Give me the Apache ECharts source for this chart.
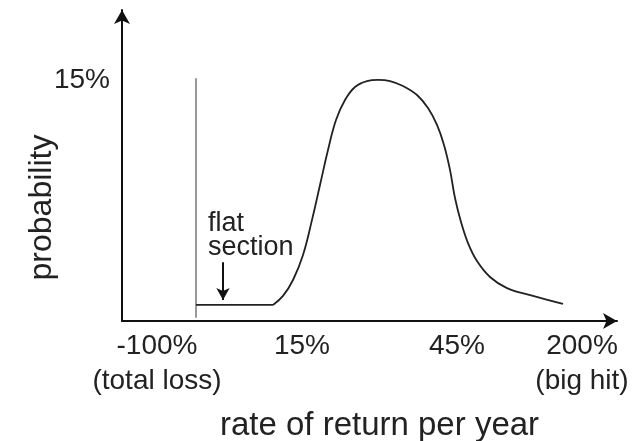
<!DOCTYPE html>
<html>
<head>
<meta charset="utf-8">
<script src="https://cdn.jsdelivr.net/npm/echarts@6/dist/echarts.min.js"></script>
<style>
html, body { margin: 0; padding: 0; background: #fff; }
#chart { width: 633px; height: 441px; }
</style>
</head>
<body>
<div id="chart"></div>
<script>
//*************** data *************************
// x in arbitrary position units along the return axis, y in % probability
var xTickPos = [7, 36, 67, 92];
var xTickLabels = ['-100%\n(total loss)', '15%', '45%', '200%\n(big hit)'];
var yTickPos = [15];
var yTickLabels = ['15%'];

var wallLine = [[14.8, 15.1], [14.8, 0.2]];
var flatLine = [[14.8, 1.0], [30.2, 1.0]];
var bellCurve = [
    [30.2, 1.00], [32.2, 1.56], [34.2, 2.55], [36.2, 4.11], [38.0, 6.29],
    [39.6, 8.46], [41.2, 10.64], [42.8, 12.51], [44.6, 13.75], [46.6, 14.56],
    [49.0, 14.93], [51.2, 15.00], [53.6, 14.93], [56.2, 14.62], [59.0, 14.06],
    [61.2, 13.25], [63.0, 12.20], [64.4, 10.95], [65.6, 9.40], [66.6, 7.65],
    [67.8, 6.16], [69.2, 4.85], [71.0, 3.73], [73.6, 2.74], [77.0, 2.05],
    [82.2, 1.56], [88.2, 1.06]
];
var flatNote = 'flat\nsection';
var flatNotePos = [16.2, 5.3];
var flatArrow = [[20.2, 3.65], [20.2, 1.3]];

//*************** chart *************************
var chart_dom = document.getElementById('chart');
var chart = echarts.init(chart_dom);

var font = 'Liberation Sans';
var textColor = '#222';

chart.setOption({
    animation: false,
    grid: {left: 122, right: 16, top: 10, bottom: 120, outerBoundsMode: 'none'},
    xAxis: {
        type: 'value',
        min: 0,
        max: 99,
        interval: 1,
        name: 'rate of return per year',
        nameLocation: 'middle',
        nameGap: 88,
        nameMoveOverlap: false,
        nameTextStyle: {fontFamily: font, fontSize: 33, color: textColor, padding: [0, 0, 0, 20]},
        axisLine: {
            show: true,
            symbol: ['none', 'arrow'],
            symbolSize: [12, 14],
            lineStyle: {color: '#111', width: 2}
        },
        axisTick: {show: false},
        splitLine: {show: false},
        axisLabel: {
            margin: 8,
            fontFamily: font,
            fontSize: 28,
            lineHeight: 35,
            color: textColor,
            formatter: function (v) {
                var i = xTickPos.indexOf(v);
                return i >= 0 ? xTickLabels[i] : '';
            }
        }
    },
    yAxis: {
        type: 'value',
        min: 0,
        max: 19.35,
        interval: 15,
        name: 'probability',
        nameLocation: 'middle',
        nameGap: 64,
        nameMoveOverlap: false,
        nameTextStyle: {fontFamily: font, fontSize: 32, color: textColor, padding: [0, 84, 0, 0]},
        axisLine: {
            show: true,
            symbol: ['none', 'arrow'],
            symbolSize: [12, 14],
            lineStyle: {color: '#111', width: 2}
        },
        axisTick: {show: false},
        splitLine: {show: false},
        axisLabel: {
            margin: 12,
            fontFamily: font,
            fontSize: 28,
            color: textColor,
            formatter: function (v) {
                var i = yTickPos.indexOf(v);
                return i >= 0 ? yTickLabels[i] : '';
            }
        }
    },
    series: [
        {
            type: 'line',
            data: wallLine,
            symbol: 'none',
            lineStyle: {color: '#777', width: 1.5}
        },
        {
            type: 'line',
            data: flatLine,
            symbol: 'none',
            lineStyle: {color: '#222', width: 1.8},
            markPoint: {
                symbol: 'circle',
                symbolSize: 0,
                data: [{
                    coord: flatNotePos,
                    label: {
                        show: true,
                        position: 'right',
                        distance: 5,
                        formatter: flatNote,
                        fontFamily: font,
                        fontSize: 27,
                        lineHeight: 24,
                        color: textColor
                    }
                }]
            },
            markLine: {
                silent: true,
                symbol: ['none', 'arrow'],
                symbolSize: [10, 12],
                label: {show: false},
                lineStyle: {color: '#111', width: 2, type: 'solid'},
                data: [[{coord: flatArrow[0]}, {coord: flatArrow[1]}]]
            }
        },
        {
            type: 'line',
            data: bellCurve,
            symbol: 'none',
            smooth: 0.4,
            lineStyle: {color: '#222', width: 1.8}
        }
    ]
});
</script>
</body>
</html>
